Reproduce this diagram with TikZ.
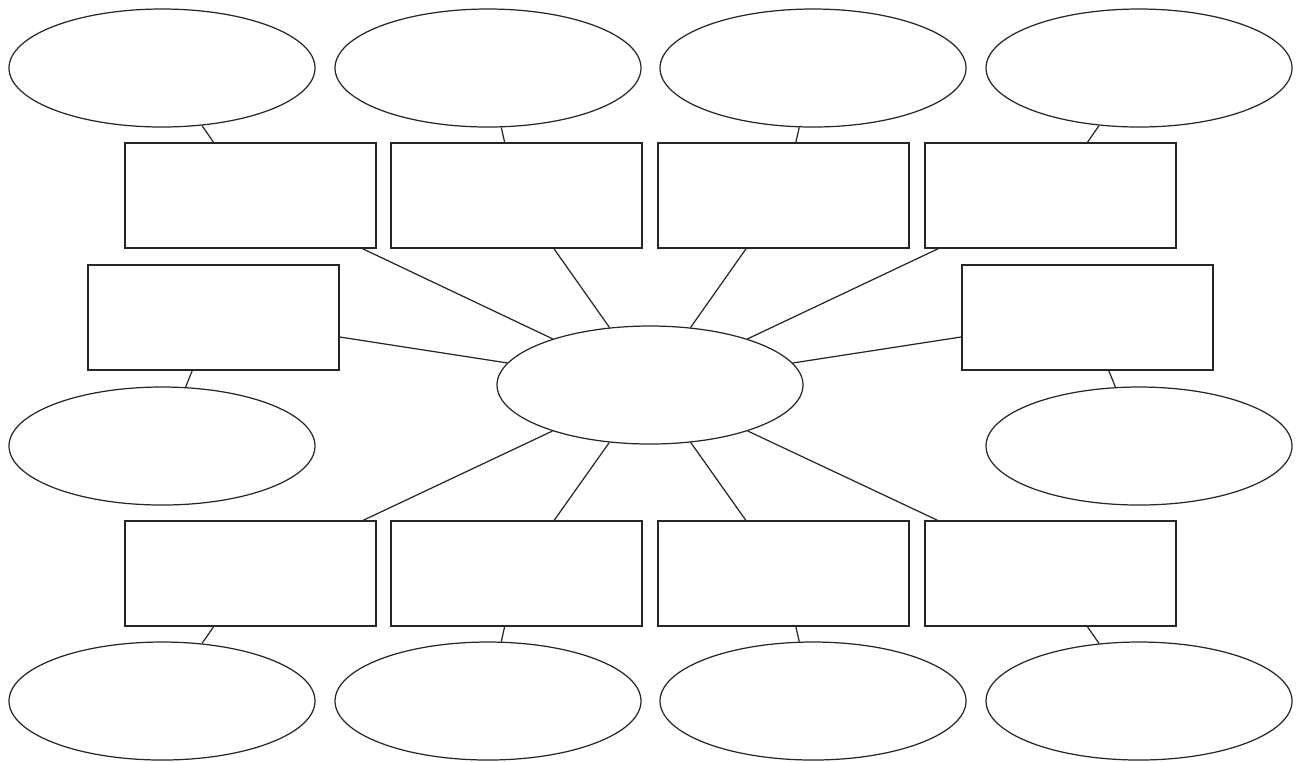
\documentclass[tikz,border=0pt]{standalone}
\usetikzlibrary{shapes.geometric}
\tikzset{
  bubble/.style={draw, ellipse, minimum width=3.06cm, minimum height=1.18cm, inner sep=0pt},
  topicbox/.style={draw, rectangle, minimum width=2.51cm, minimum height=1.05cm, inner sep=0pt}
}
\begin{document}
\begin{tikzpicture}[line width=0.35pt, draw=black!85]
  \useasboundingbox (0,0) rectangle (13,-7.61);

  % Centre
  \node[bubble] (hub) at (6.50,-3.85) {};

  % Boxes round the centre
  \node[topicbox] (b1) at (2.505,-1.955) {};
  \node[topicbox] (b2) at (5.165,-1.955) {};
  \node[topicbox] (b3) at (7.835,-1.955) {};
  \node[topicbox] (b4) at (10.505,-1.955) {};
  \node[topicbox] (b5) at (2.135,-3.175) {};
  \node[topicbox] (b6) at (10.875,-3.175) {};
  \node[topicbox] (b7) at (2.505,-5.735) {};
  \node[topicbox] (b8) at (5.165,-5.735) {};
  \node[topicbox] (b9) at (7.835,-5.735) {};
  \node[topicbox] (b10) at (10.505,-5.735) {};

  % Outer ellipses
  \node[bubble] (e1) at (1.62,-0.68) {};
  \node[bubble] (e2) at (4.88,-0.68) {};
  \node[bubble] (e3) at (8.13,-0.68) {};
  \node[bubble] (e4) at (11.39,-0.68) {};
  \node[bubble] (e5) at (1.62,-4.46) {};
  \node[bubble] (e6) at (11.39,-4.46) {};
  \node[bubble] (e7) at (1.62,-7.01) {};
  \node[bubble] (e8) at (4.88,-7.01) {};
  \node[bubble] (e9) at (8.13,-7.01) {};
  \node[bubble] (e10) at (11.39,-7.01) {};

  % Spokes
  \foreach \i in {1,...,10}
    \draw (hub) -- (b\i);

  % Box to ellipse
  \foreach \i in {1,...,10}
    \draw (b\i) -- (e\i);
\end{tikzpicture}
\end{document}
